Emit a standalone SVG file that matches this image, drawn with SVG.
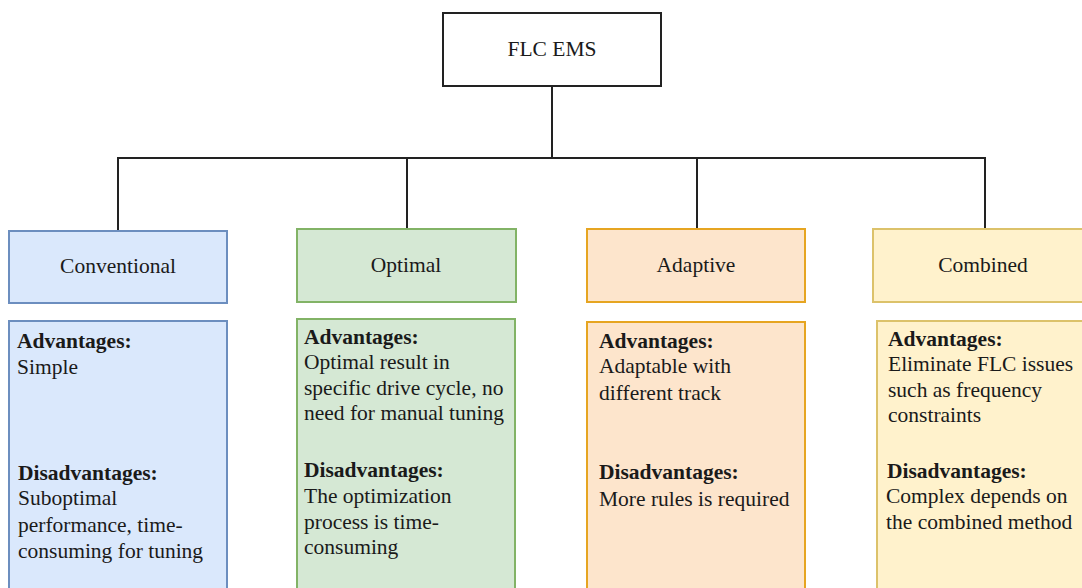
<svg xmlns="http://www.w3.org/2000/svg" width="1082" height="588" viewBox="0 0 1082 588">
  <style>
    text { font-family: "Liberation Serif", "Times New Roman", serif; font-size: 21.5px; fill: #1a1a1a; }
    .b { font-weight: bold; }
    .c { text-anchor: middle; }
    .link { fill: none; stroke: #222; stroke-width: 2; }
    .root { fill: #ffffff; stroke: #222; stroke-width: 2; }
    .blue { fill: #dae8fc; stroke: #6c8ebf; stroke-width: 2; }
    .green { fill: #d5e8d4; stroke: #82b366; stroke-width: 2; }
    .orange { fill: #fde5cc; stroke: #e6a521; stroke-width: 2; }
    .yellow { fill: #fff2cc; stroke: #dcc26a; stroke-width: 2; }
  </style>
  <rect width="1082" height="588" fill="#ffffff"/>

  <!-- tree connectors -->
  <g id="connectors">
    <path class="link" d="M552 86 V158"/>
    <path class="link" d="M118 230 V158 H985 V229"/>
    <path class="link" d="M407 158 V229"/>
    <path class="link" d="M697 158 V229"/>
  </g>

  <g id="root">
    <rect class="root" x="443" y="13" width="218" height="73"/>
    <text class="c" x="552" y="56">FLC EMS</text>
  </g>

  <g id="conventional">
    <rect class="blue" x="9" y="231" width="218" height="72"/>
    <text class="c" x="118" y="273">Conventional</text>
  </g>
  <g id="conventional-notes">
    <rect class="blue" x="9" y="321" width="218" height="280"/>
    <text x="17" y="348" class="b">Advantages:</text>
    <text x="17" y="374">Simple</text>
    <text x="18" y="480" class="b">Disadvantages:</text>
    <text x="18" y="505">Suboptimal</text>
    <text x="18" y="532">performance, time-</text>
    <text x="18" y="558">consuming for tuning</text>
  </g>

  <g id="optimal">
    <rect class="green" x="297" y="229" width="219" height="73"/>
    <text class="c" x="406" y="272">Optimal</text>
  </g>
  <g id="optimal-notes">
    <rect class="green" x="297" y="319" width="218" height="282"/>
    <text x="304" y="344" class="b">Advantages:</text>
    <text x="304" y="369">Optimal result in</text>
    <text x="304" y="395">specific drive cycle, no</text>
    <text x="304" y="420">need for manual tuning</text>
    <text x="304" y="477" class="b">Disadvantages:</text>
    <text x="304" y="503">The optimization</text>
    <text x="304" y="529">process is time-</text>
    <text x="304" y="554">consuming</text>
  </g>

  <g id="adaptive">
    <rect class="orange" x="587" y="229" width="218" height="73"/>
    <text class="c" x="696" y="272">Adaptive</text>
  </g>
  <g id="adaptive-notes">
    <rect class="orange" x="587" y="322" width="218" height="280"/>
    <text x="599" y="348" class="b">Advantages:</text>
    <text x="599" y="373">Adaptable with</text>
    <text x="599" y="400">different track</text>
    <text x="599" y="479" class="b">Disadvantages:</text>
    <text x="599" y="506">More rules is required</text>
  </g>

  <g id="combined">
    <rect class="yellow" x="873" y="229" width="218" height="73"/>
    <text class="c" x="983" y="272">Combined</text>
  </g>
  <g id="combined-notes">
    <rect class="yellow" x="877" y="321" width="218" height="280"/>
    <text x="888" y="346" class="b">Advantages:</text>
    <text x="888" y="371">Eliminate FLC issues</text>
    <text x="888" y="397">such as frequency</text>
    <text x="888" y="422">constraints</text>
    <text x="887" y="478" class="b">Disadvantages:</text>
    <text x="886" y="503">Complex depends on</text>
    <text x="886" y="529">the combined method</text>
  </g>
</svg>
